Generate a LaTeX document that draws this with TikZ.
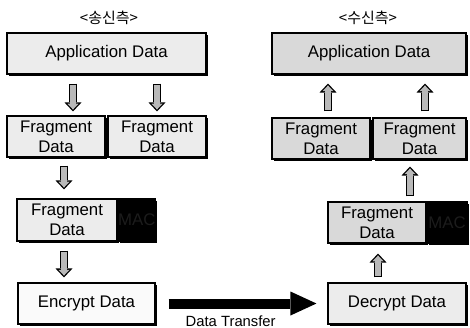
\documentclass[tikz,border=0pt]{standalone}
\usepackage{fontspec}
\setmainfont{Liberation Sans}
\newfontfamily\kofont{Noto Sans CJK KR}
\usetikzlibrary{positioning,arrows.meta,shadows}

\begin{document}
\begin{tikzpicture}[x=1pt,y=-1pt]
  \tikzset{every node/.style={font=\fontsize{16.8}{20}\selectfont},
    sidetitle/.style={font=\kofont\fontsize{15}{17}\selectfont},
    databox/.style={draw,line width=1.1pt,align=center,inner sep=0pt,minimum height=41pt,
      drop shadow={shadow xshift=2pt,shadow yshift=-2pt,fill=black,opacity=1}},
    macbox/.style={databox,fill=black,text=gray!22!black},
    flowarrow/.style={draw=gray!55,line width=5.4pt,shorten <=1.3pt,shorten >=1.9pt,
      -{Triangle[length=5.8pt,width=11pt,line width=0pt]},
      preaction={draw=black,line width=8pt,shorten <=0pt,shorten >=0pt,
        -{Triangle[length=9pt,width=17pt,line width=0pt]}}},
    sendarrow/.style={draw=black,line width=10pt,-{Triangle[length=26pt,width=24pt,line width=0pt]}}}
  \useasboundingbox (0,0) rectangle (470,328);

  % sender side
  \node[sidetitle] (titleL) at (109,18) {<송신측>};
  \node[databox,fill=gray!15,minimum width=199pt] (appL) at (106.5,53.5) {Application Data};
  \node[databox,fill=gray!15,minimum width=98pt] (fragLa) at (56,136.5) {Fragment\\Data};
  \node[databox,fill=gray!15,minimum width=98pt] (fragLb) at (157,136.5) {Fragment\\Data};
  \node[databox,fill=gray!15,minimum width=100pt,minimum height=42pt] (fragML) at (67,220) {Fragment\\Data};
  \node[macbox,minimum width=34pt,minimum height=42pt,right=0pt of fragML] (macL) {MAC};
  \node[databox,fill=gray!4,minimum width=137pt] (encL) at (86.5,303.5) {Encrypt Data};

  % receiver side
  \node[sidetitle] (titleR) at (368,18) {<수신측>};
  \node[databox,fill=gray!30,minimum width=194pt] (appR) at (369,53.5) {Application Data};
  \node[databox,fill=gray!30,minimum width=98pt] (fragRa) at (321,138.5) {Fragment\\Data};
  \node[databox,fill=gray!30,minimum width=93pt] (fragRb) at (419.5,138.5) {Fragment\\Data};
  \node[databox,fill=gray!30,minimum width=98pt] (fragMR) at (377,222.5) {Fragment\\Data};
  \node[macbox,minimum width=40pt,right=0pt of fragMR] (macR) {MAC};
  \node[databox,fill=gray!15,minimum width=138pt] (decR) at (397,303.5) {Decrypt Data};

  \draw[flowarrow] ([xshift=-33.5pt,yshift=-9pt]appL.south) -- ([xshift=17pt,yshift=4pt]fragLa.north);
  \draw[flowarrow] ([xshift=50.5pt,yshift=-9pt]appL.south) -- ([yshift=4pt]fragLb.north);
  \draw[flowarrow] ([xshift=8pt,yshift=-8pt]fragLa.south) -- ([xshift=-3pt,yshift=9pt]fragML.north);
  \draw[flowarrow] ([xshift=-3pt,yshift=-9pt]fragML.south) -- ([xshift=-22.5pt,yshift=5pt]encL.north);

  \draw[flowarrow] ([xshift=-19pt,yshift=5pt]decR.north) -- ([xshift=1pt,yshift=-10pt]fragMR.south);
  \draw[flowarrow] ([xshift=33pt,yshift=5pt]fragMR.north) -- ([xshift=-9.5pt,yshift=-7pt]fragRb.south);
  \draw[flowarrow] ([xshift=7pt,yshift=6pt]fragRa.north) -- ([xshift=-41pt,yshift=-9pt]appR.south);
  \draw[flowarrow] ([xshift=5.5pt,yshift=6pt]fragRb.north) -- ([xshift=56pt,yshift=-9pt]appR.south);

  \draw[sendarrow] ([xshift=13pt]encL.east) -- ([xshift=-11pt]decR.west)
    node[pos=0.42,below=7pt,inner sep=0pt,font=\fontsize{14.8}{18}\selectfont] {Data Transfer};
\end{tikzpicture}
\end{document}
